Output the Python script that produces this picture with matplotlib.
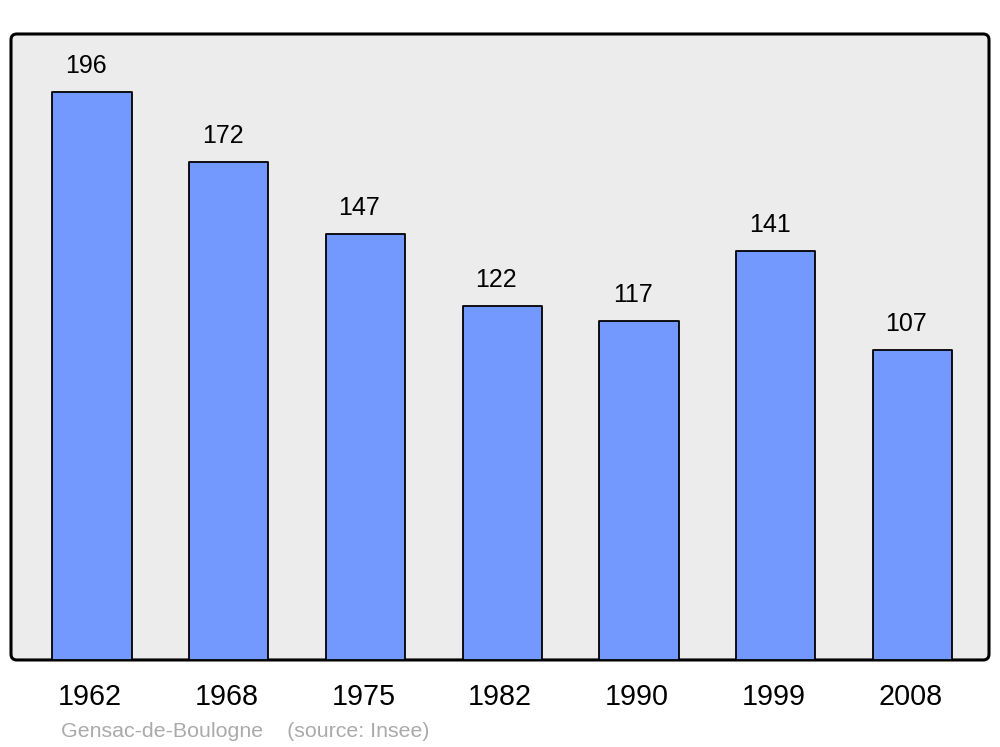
import matplotlib.pyplot as plt
import matplotlib.transforms as mtransforms
from matplotlib.patches import FancyBboxPatch

years = ['1962', '1968', '1975', '1982', '1990', '1999', '2008']
population = [196, 172, 147, 122, 117, 141, 107]
footer = 'Gensac-de-Boulogne    (source: Insee)'

plt.rcParams['font.family'] = ['Liberation Sans', 'DejaVu Sans']

fig = plt.figure(figsize=(10, 7.47), dpi=100)
ax = fig.add_axes([0.011, 0.1165, 0.978, 0.838])
ax.set_facecolor('none')

# rounded grey frame behind everything
frame = FancyBboxPatch((0, 0), 1, 1, boxstyle='round,pad=0,rounding_size=0.006',
                       mutation_aspect=978 / 626, transform=ax.transAxes,
                       facecolor='#ececec', edgecolor='black', linewidth=2.2,
                       clip_on=False, zorder=0)
ax.add_patch(frame)

x = range(len(years))
bars = ax.bar(x, population, width=0.58, color='#7399ff', edgecolor='black',
              linewidth=1.3, zorder=2)
for b in bars:
    b.set_joinstyle('round')

for i, v in zip(x, population):
    ax.annotate(str(v), (i, v), xytext=(-4.3, 18.7), textcoords='offset points',
                ha='center', va='center', fontsize=18)

ax.set_xlim(-0.592, 6.56)
ax.set_ylim(0, 216)
ax.set_xticks(list(x))
ax.set_xticklabels(years, fontsize=20.7)
ax.tick_params(axis='x', length=0, pad=16.5)
shift = mtransforms.ScaledTranslation(-2 / 100, 0, fig.dpi_scale_trans)
for lbl in ax.get_xticklabels():
    lbl.set_transform(lbl.get_transform() + shift)
ax.set_yticks([])
for s in ax.spines.values():
    s.set_visible(False)

fig.text(0.061, 0.0201, footer, color='#aaaaaa', fontsize=15.4,
         ha='left', va='center')

fig.savefig('out.png', dpi=100)
